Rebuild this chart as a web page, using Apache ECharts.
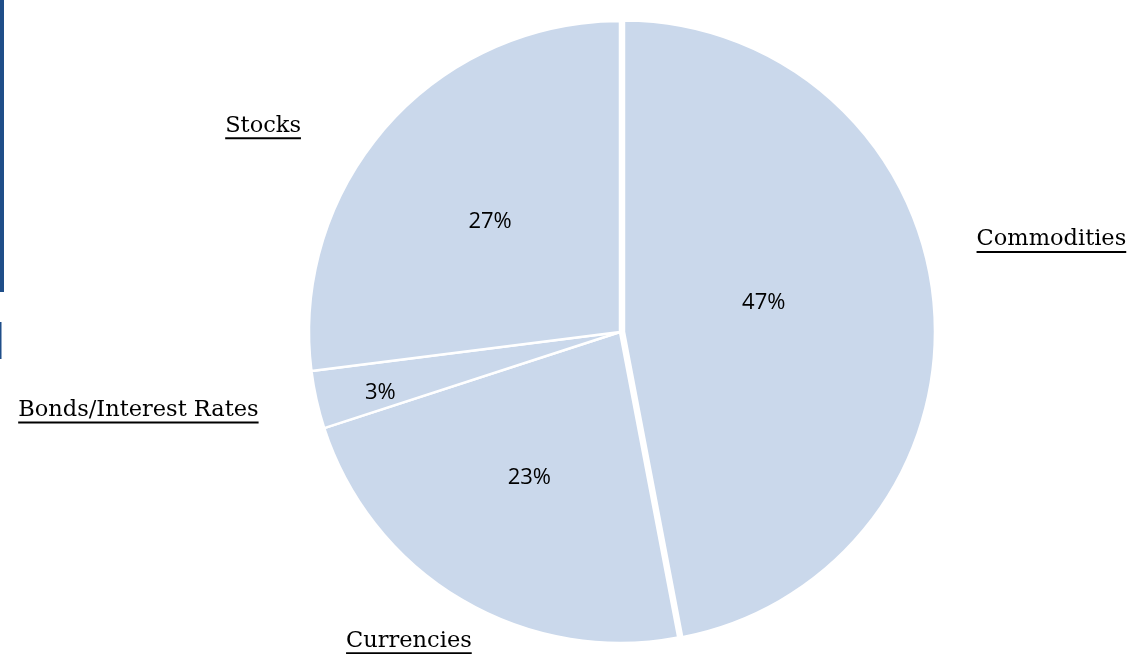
<!DOCTYPE html>
<html>
<head>
<meta charset="utf-8">
<script src="https://cdn.jsdelivr.net/npm/echarts@6/dist/echarts.min.js"></script>
<style>
html,body{margin:0;padding:0;background:#fff;}
#chart{width:1145px;height:654px;}
</style>
</head>
<body>
<div id="chart"></div>
<script>
// Data
const categories = ['Commodities', 'Currencies', 'Bonds/Interest Rates', 'Stocks'];
const shares = [47, 23, 3, 27];

// Label placement tweaks (style, not data)
const outerLine = [[10, 28], [49, 0], [46, 8], [1, 80]];
const outerShift = [[0, -61], [40, 0], [0, 1], [0, 1]];
const innerShift = [[-18, -14], [-10, 9], [-85, 26], [-11, -5]];

const fill = '#CAD8EB';
const chart = echarts.init(document.getElementById('chart'));

const baseData = categories.map((name, i) => ({
  name, value: shares[i], selected: i === 0
}));

const option = {
  animation: false,
  backgroundColor: '#ffffff',
  graphic: [
    { type: 'rect', left: 0, top: 0, shape: { width: 4, height: 292 }, style: { fill: '#1F4E89' } },
    { type: 'rect', left: 0, top: 322, shape: { width: 1.5, height: 37 }, style: { fill: '#1F4E89' } }
  ],
  series: [
    {
      type: 'pie',
      center: [620, 332],
      radius: 311,
      startAngle: 90,
      clockwise: true,
      selectedMode: 'single',
      selectedOffset: 4,
      avoidLabelOverlap: false,
      silent: true,
      itemStyle: { color: fill, borderColor: '#ffffff', borderWidth: 2.5 },
      label: {
        show: true,
        position: 'inside',
        formatter: '{c}%',
        fontFamily: 'Open Sans',
        fontSize: 22,
        color: '#000000'
      },
      labelLayout: p => ({ dx: innerShift[p.dataIndex][0], dy: innerShift[p.dataIndex][1] }),
      data: baseData.map(d => Object.assign({}, d))
    },
    {
      type: 'pie',
      center: [620, 332],
      radius: 311,
      startAngle: 90,
      clockwise: true,
      selectedMode: 'single',
      selectedOffset: 4,
      avoidLabelOverlap: false,
      silent: true,
      z: 1,
      itemStyle: { color: 'rgba(0,0,0,0)', borderWidth: 0 },
      label: {
        show: true,
        position: 'outside',
        formatter: '{n|{b}}\n{u|}',
        rich: {
          n: { fontFamily: 'DejaVu Serif', fontSize: 22.5, color: '#000000', lineHeight: 23 },
          u: { width: '100%', height: 2, backgroundColor: '#000000', lineHeight: 2 }
        }
      },
      labelLine: { show: false },
      labelLayout: p => ({ dx: outerShift[p.dataIndex][0], dy: outerShift[p.dataIndex][1] }),
      data: baseData.map((d, i) => Object.assign({}, d, {
        labelLine: { show: false, length: outerLine[i][0], length2: outerLine[i][1] }
      }))
    }
  ]
};
chart.setOption(option);
</script>
</body>
</html>
